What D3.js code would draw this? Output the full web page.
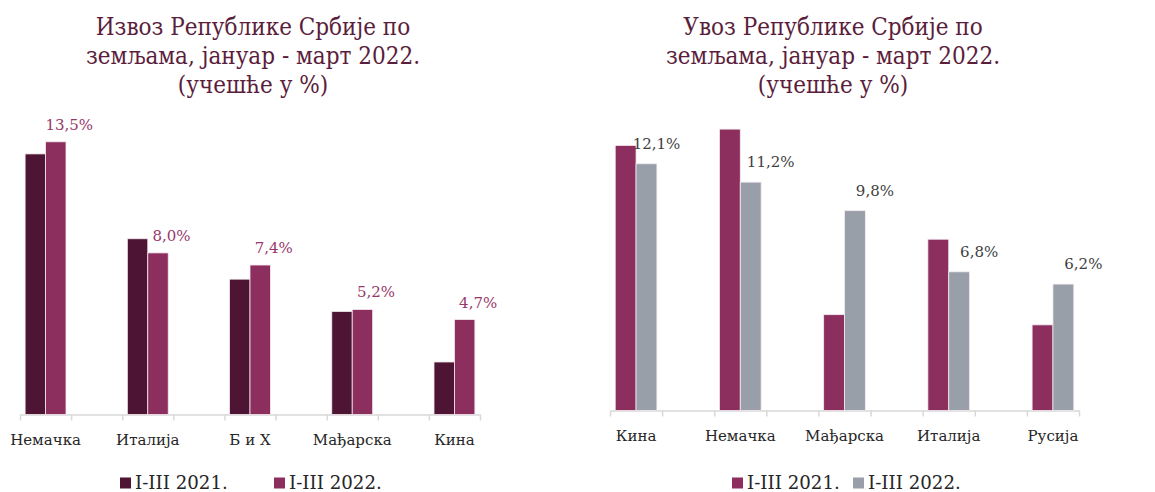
<!DOCTYPE html>
<meta charset="utf-8">
<script src="https://d3js.org/d3.v7.min.js"></script>
<style>
  body { margin: 0; background: #fff; }
  .axis path, .axis line { stroke: #d9d9d9; stroke-width: 1.5; }
</style>
<div id="chart"></div>
<script>

// izvoz (export)
var exportTitle = ["Извоз Републике Србије по", "земљама, јануар - март 2022.", "(учешће у %)"];
var exportCountries = ["Немачка", "Италија", "Б и Х", "Мађарска", "Кина"];
var export2021 = [12.9, 8.7, 6.7, 5.1, 2.6];
var export2022 = [13.5, 8.0, 7.4, 5.2, 4.7];

// uvoz (import)
var importTitle = ["Увоз Републике Србије по", "земљама, јануар - март 2022.", "(учешће у %)"];
var importCountries = ["Кина", "Немачка", "Мађарска", "Италија", "Русија"];
var import2021 = [13.0, 13.8, 4.7, 8.4, 4.2];
var import2022 = [12.1, 11.2, 9.8, 6.8, 6.2];

var seriesNames = ["I-III 2021.", "I-III 2022."];

var FONT = "DejaVu Serif";

var svg = d3.select("#chart").append("svg")
  .attr("width", 1155)
  .attr("height", 492);

function drawChart(opt) {
  var g = svg.append("g");

  // title
  g.append("text")
    .attr("text-anchor", "middle")
    .attr("fill", "#5a1e3c")
    .style("font-family", "'DejaVu Serif Condensed', 'DejaVu Serif'")
    .style("font-size", "24px")
    .selectAll("tspan")
    .data(opt.title)
    .enter().append("tspan")
      .attr("x", opt.titleX)
      .attr("y", function(d, i) { return 35 + i * 29; })
      .text(function(d) { return d; });

  // every country gets one slot, with an empty slot between them
  var slots = d3.range(opt.countries.length * 2 - 1);
  var x = d3.scaleBand()
    .domain(slots)
    .range([opt.left, opt.right]);

  var xs = d3.scaleBand()
    .domain([0, 1])
    .range([0, x.bandwidth()])
    .paddingOuter(0.25);

  var y = d3.scaleLinear()
    .domain([0, 14])
    .range([opt.base, opt.base - 14 * opt.pxPer]);

  // axis with ticks on every slot boundary
  var tickScale = d3.scaleLinear().domain([0, slots.length]).range([opt.left, opt.right]);
  g.append("g")
    .attr("class", "axis")
    .attr("transform", "translate(0," + opt.base + ")")
    .call(d3.axisBottom(tickScale)
      .tickValues(d3.range(slots.length + 1))
      .tickSizeInner(6)
      .tickSizeOuter(0)
      .tickFormat(""));

  var rows = opt.countries.map(function(c, i) {
    return { name: c, i: i, vals: [opt.s1[i], opt.s2[i]] };
  });

  var groups = g.selectAll(".grp")
    .data(rows)
    .enter().append("g")
      .attr("class", "grp")
      .attr("transform", function(d) { return "translate(" + x(d.i * 2) + ",0)"; });

  groups.selectAll("rect")
    .data(function(d) { return d.vals; })
    .enter().append("rect")
      .attr("x", function(d, j) { return xs(j); })
      .attr("width", xs.bandwidth())
      .attr("y", function(d) { return y(d); })
      .attr("height", function(d) { return y(0) - y(d); })
      .attr("fill", function(d, j) { return opt.colors[j]; })
      .attr("stroke", "#f4eaf0")
      .attr("stroke-width", 0.8);

  // value labels for the 2022 series
  groups.append("text")
    .attr("x", function(d) { return xs(1) + xs.bandwidth() / 2 + (d.i === 0 ? opt.firstShift : opt.labelShift); })
    .attr("y", function(d) { return y(d.vals[1]) - opt.labelGap; })
    .attr("text-anchor", "middle")
    .attr("fill", opt.labelColor)
    .style("font-family", FONT)
    .style("font-size", "15px")
    .text(function(d) { return d3.format(".1f")(d.vals[1]).replace(".", ",") + "%"; });

  // category labels
  groups.append("text")
    .attr("x", x.bandwidth() / 2)
    .attr("y", opt.base + 30.5)
    .attr("text-anchor", "middle")
    .attr("fill", "#262626")
    .style("font-family", FONT)
    .style("font-size", "15px")
    .text(function(d) { return d.name; });

  // legend
  var leg = g.selectAll(".leg")
    .data(seriesNames)
    .enter().append("g")
      .attr("class", "leg")
      .attr("transform", function(d, i) { return "translate(" + opt.legendX[i] + ",477.5)"; });
  leg.append("rect")
    .attr("width", 11)
    .attr("height", 11)
    .attr("fill", function(d, i) { return opt.colors[i]; });
  leg.append("text")
    .attr("x", 15)
    .attr("y", 11.5)
    .attr("fill", "#262626")
    .style("font-family", FONT)
    .style("font-size", "18.2px")
    .text(function(d) { return d; });
}

drawChart({
  title: exportTitle, titleX: 253,
  countries: exportCountries, s1: export2021, s2: export2022,
  left: 20, right: 480, base: 414.5, pxPer: 20.2,
  colors: ["#4d1533", "#8c2f5f"],
  labelColor: "#98386a", labelShift: 13.5, firstShift: 13.5, labelGap: 12,
  legendX: [120, 274]
});

drawChart({
  title: importTitle, titleX: 833,
  countries: importCountries, s1: import2021, s2: import2022,
  left: 610, right: 1079, base: 410.5, pxPer: 20.39,
  colors: ["#8c2f5f", "#989fa8"],
  labelColor: "#404040", labelShift: 20, firstShift: 10, labelGap: 15,
  legendX: [732, 853]
});

</script>
